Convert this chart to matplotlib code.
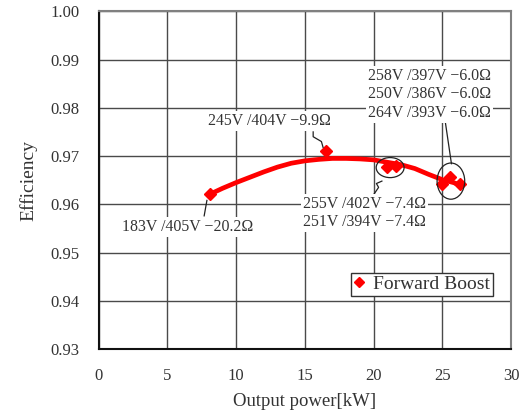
import matplotlib
matplotlib.use("Agg")
import matplotlib.pyplot as plt
from matplotlib.patches import Ellipse

plt.rcParams['font.family'] = ['Liberation Serif', 'DejaVu Serif']

# Fitted efficiency trend (hand-drawn curve)
curve_power = [8.1, 9, 10, 11, 12, 13, 14, 15, 16, 17, 18, 19, 20, 21, 22, 23, 24, 25, 25.8, 26.3]
curve_eff = [0.9621, 0.9633, 0.9645, 0.9656, 0.9667, 0.9677, 0.9685, 0.9690, 0.9693, 0.9695,
             0.9695, 0.9694, 0.9692, 0.9687, 0.9682, 0.9674, 0.9662, 0.9651, 0.9645, 0.9640]

# Measured operating points
meas_power = [8.1, 16.5, 21.0, 21.6, 24.95, 25.55, 26.3]
meas_eff = [0.9621, 0.9710, 0.9678, 0.9680, 0.9642, 0.9657, 0.9643]

x_ticks = [0, 5, 10, 15, 20, 25, 30]
y_ticks = [0.93, 0.94, 0.95, 0.96, 0.97, 0.98, 0.99, 1.00]

labels = {
    'a': "183V /405V \u221220.2\u03a9",
    'b': "245V /404V \u22129.9\u03a9",
    'c': "255V /402V \u22127.4\u03a9\n251V /394V \u22127.4\u03a9",
    'd': "258V /397V \u22126.0\u03a9\n250V /386V \u22126.0\u03a9\n264V /393V \u22126.0\u03a9",
}

fig = plt.figure(figsize=(5.28, 4.17), dpi=100)
ax = fig.add_axes([0.187, 0.163, 0.781, 0.810])

ax.set_xlim(0, 30)
ax.set_ylim(0.93, 1.00)
ax.set_xticks(x_ticks)
ax.set_yticks(y_ticks)
ax.set_xticklabels([str(v) for v in x_ticks])
ax.set_yticklabels([f"{v:.2f}" for v in y_ticks])
ax.tick_params(direction='in', length=0, pad=14, labelsize=12, colors='#333333')
ax.grid(True, color='#4a4a4a', linewidth=1.0)
ax.set_axisbelow(True)

for side in ('left', 'bottom'):
    ax.spines[side].set_color('#111111')
    ax.spines[side].set_linewidth(1.5)
for side in ('top', 'right'):
    ax.spines[side].set_color('#808080')
    ax.spines[side].set_linewidth(1.5)

ax.plot(curve_power, curve_eff, color='#ff0000', linewidth=3.4, zorder=3,
        solid_capstyle='round')
ax.plot(meas_power, meas_eff, linestyle='none', marker='D', markersize=6,
        color='#ff0000', zorder=4, label='Forward Boost')

box = dict(facecolor='white', edgecolor='none', pad=1.5)
tkw = dict(fontsize=11.4, color='#333333', ha='left', va='center', bbox=box, zorder=5,
           linespacing=1.2)
ax.text(1.7, 0.9552, labels['a'], **tkw)
ax.text(7.96, 0.9772, labels['b'], **tkw)
ax.text(14.85, 0.9582, labels['c'], **tkw)
ax.text(19.57, 0.9828, labels['d'], **tkw)

# Leader lines
lk = dict(color='#222222', linewidth=0.9, zorder=4)
ax.plot([7.67, 7.87], [0.9576, 0.9608], **lk)
ax.plot([15.6, 15.6, 16.2, 16.32], [0.9750, 0.9740, 0.9730, 0.9718], **lk)
ax.plot([19.95, 20.0, 20.36, 20.2, 20.6], [0.9599, 0.9620, 0.9635, 0.9643, 0.9648], **lk)
ax.plot([25.19, 25.66], [0.9775, 0.9684], **lk)

ax.add_patch(Ellipse((21.2, 0.9676), 2.03, 0.00415, fill=False, edgecolor='#222222',
                     linewidth=0.9, zorder=4))
ax.add_patch(Ellipse((25.62, 0.9648), 2.01, 0.0075, fill=False, edgecolor='#222222',
                     linewidth=0.9, zorder=4))

leg = ax.legend(loc='lower right', bbox_to_anchor=(0.956, 0.157), borderaxespad=0,
                fancybox=False, framealpha=1, edgecolor='#333333', fontsize=14,
                handlelength=0.6, handletextpad=0.4, borderpad=0.15, markerscale=0.9)
leg.get_frame().set_linewidth(1.0)
for t in leg.get_texts():
    t.set_color('#333333')

ax.set_xlabel("Output power[kW]", fontsize=13.5, color='#333333', labelpad=6)
ax.set_ylabel("Efficiency", fontsize=14, color='#333333', labelpad=9)

fig.savefig("out.png", dpi=100)
